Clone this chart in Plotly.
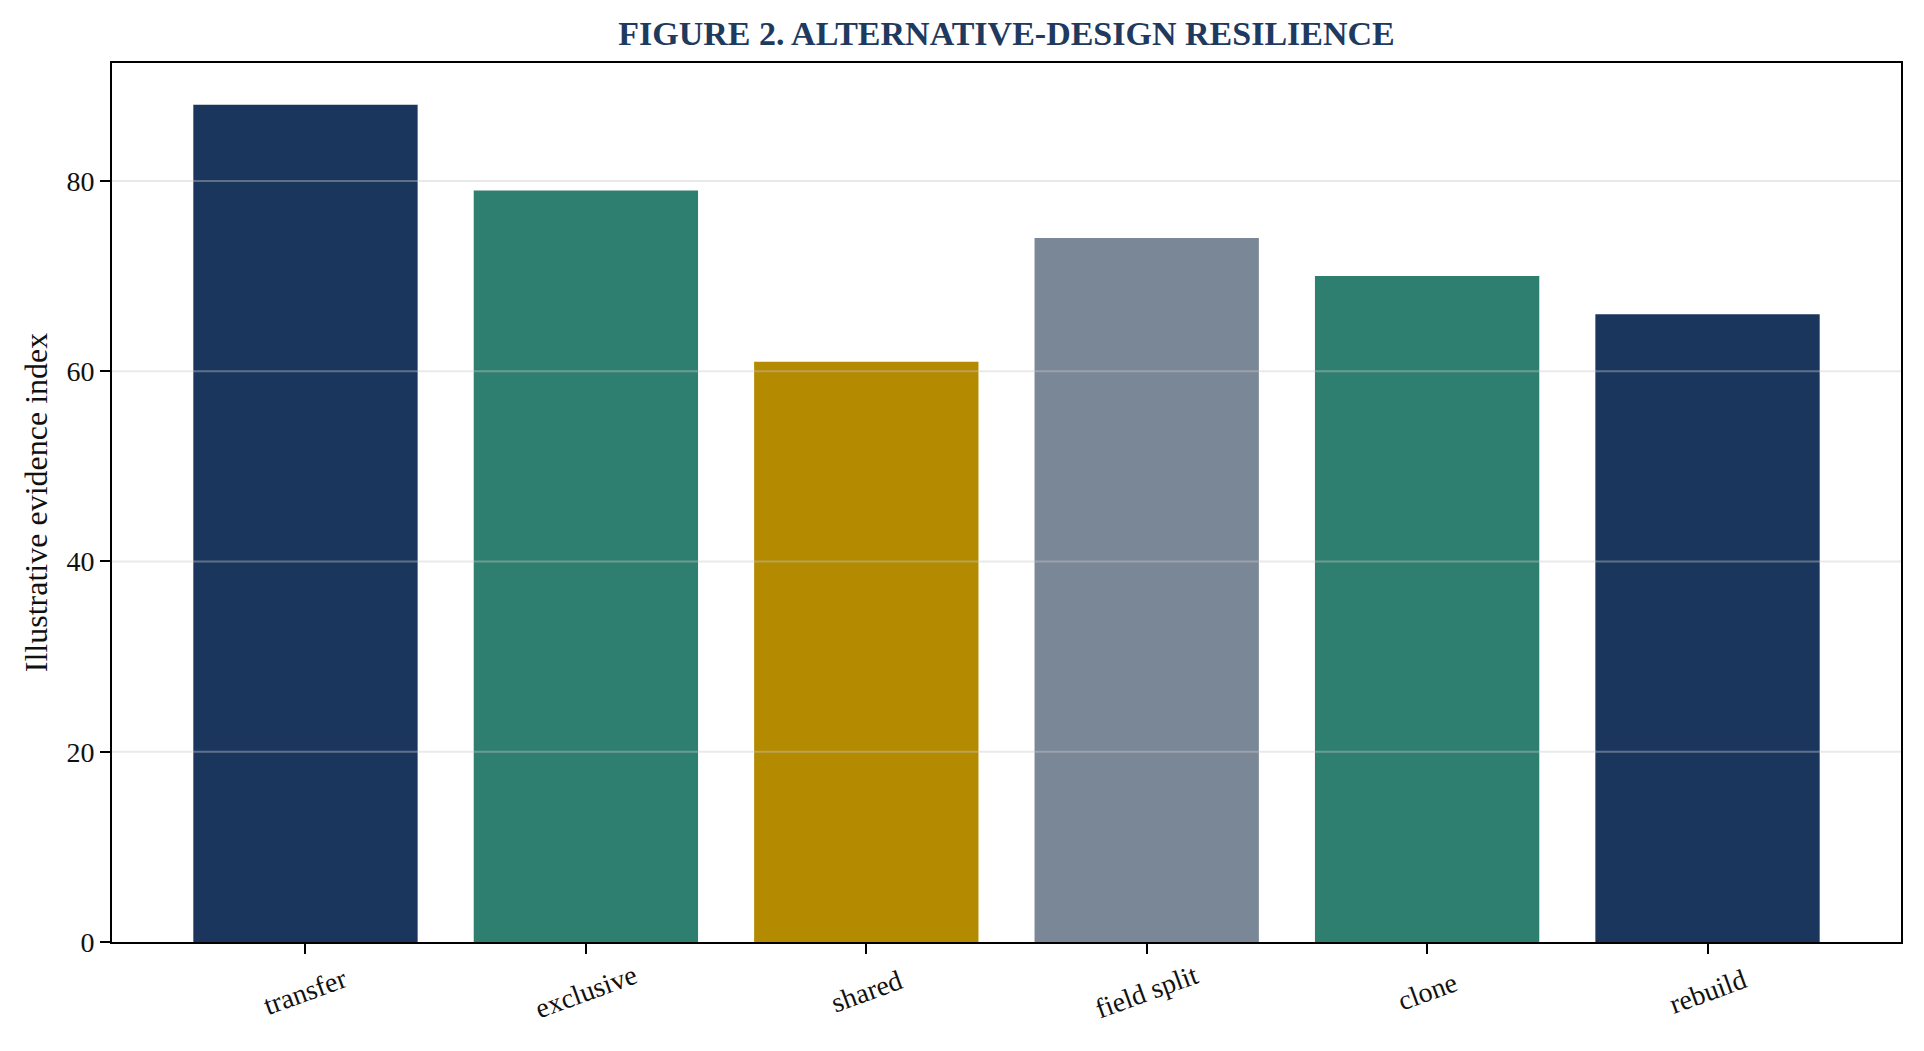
import plotly.graph_objects as go

# values
categories = ["transfer", "exclusive", "shared", "field split", "clone", "rebuild"]
scores = [88, 79, 61, 74, 70, 66]
bar_colors = ["#1a365d", "#2e7f6f", "#b38a00", "#7a8796", "#2e7f6f", "#1a365d"]
y_ticks = [0, 20, 40, 60, 80]

SERIF = "Liberation Serif, Times New Roman, serif"
NAVY = "#1f3a5f"
W, H = 1908, 1035

fig = go.Figure(
    go.Bar(
        x=categories,
        y=scores,
        marker=dict(color=bar_colors, line=dict(width=0)),
        width=0.8,
        showlegend=False,
    )
)

n = len(categories)
pad = 0.05 * (n - 1 + 0.8)

# light grid lines sit on top of the bars, like the original
for v in y_ticks[1:]:
    fig.add_hline(y=v, layer="above", line=dict(color="rgba(200,200,200,0.4)", width=2))

# centred, rotated category labels
for cat in categories:
    fig.add_annotation(
        x=cat, y=0, xref="x", yref="y",
        text=cat, showarrow=False,
        textangle=-20, yanchor="middle", xanchor="center",
        yshift=-49,
        font=dict(family=SERIF, size=28, color="#111111"),
    )

fig.update_layout(
    width=W,
    height=H,
    margin=dict(l=104, r=15, t=55, b=101),
    paper_bgcolor="white",
    plot_bgcolor="white",
    font=dict(family=SERIF, size=28, color="#111111"),
    title=dict(
        text="<b>FIGURE 2. ALTERNATIVE-DESIGN RESILIENCE</b>",
        x=0.5,
        xref="paper",
        xanchor="center",
        y=1 - 25 / H,
        yanchor="middle",
        font=dict(family=SERIF, size=34, color=NAVY),
    ),
)

fig.update_xaxes(
    range=[-0.4 - pad, n - 1 + 0.4 + pad],
    showline=True,
    linecolor="black",
    linewidth=2,
    mirror=True,
    ticks="outside",
    ticklen=10,
    tickwidth=1.5,
    tickcolor="black",
    showticklabels=False,
    showgrid=False,
)

fig.update_yaxes(
    range=[0, max(scores) * 1.05],
    tickvals=y_ticks,
    showline=True,
    linecolor="black",
    linewidth=2,
    mirror=True,
    ticks="outside",
    ticklen=10,
    tickwidth=1.5,
    tickcolor="black",
    tickfont=dict(size=28),
    showgrid=False,
    zeroline=False,
    title=dict(text="Illustrative evidence index", font=dict(size=32), standoff=9),
)

fig.write_html("out.html")
